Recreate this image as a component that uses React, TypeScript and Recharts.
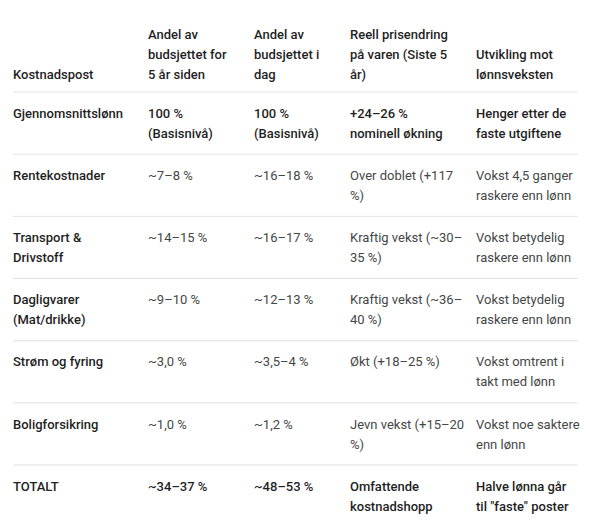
import React from "react";
import { ScatterChart, Scatter, XAxis, YAxis, ReferenceLine } from "recharts";

// ---- table content ----
const headers = [
  "Kostnadspost",
  "Andel av\nbudsjettet for\n5 år siden",
  "Andel av\nbudsjettet i\ndag",
  "Reell prisendring\npå varen (Siste 5\når)",
  "Utvikling mot\nlønnsveksten",
];

const costItems = [
  "Gjennomsnittslønn",
  "Rentekostnader",
  "Transport &\nDrivstoff",
  "Dagligvarer\n(Mat/drikke)",
  "Strøm og fyring",
  "Boligforsikring",
  "TOTALT",
];

const shareFiveYearsAgo = [
  "100 %\n(Basisnivå)",
  "~7–8 %",
  "~14–15 %",
  "~9–10 %",
  "~3,0 %",
  "~1,0 %",
  "~34–37 %",
];

const shareToday = [
  "100 %\n(Basisnivå)",
  "~16–18 %",
  "~16–17 %",
  "~12–13 %",
  "~3,5–4 %",
  "~1,2 %",
  "~48–53 %",
];

const realPriceChange = [
  "+24–26 %\nnominell økning",
  "Over doblet (+117\n%)",
  "Kraftig vekst (~30–\n35 %)",
  "Kraftig vekst (~36–\n40 %)",
  "Økt (+18–25 %)",
  "Jevn vekst (+15–20\n%)",
  "Omfattende\nkostnadshopp",
];

const vsWageGrowth = [
  "Henger etter de\nfaste utgiftene",
  "Vokst 4,5 ganger\nraskere enn lønn",
  "Vokst betydelig\nraskere enn lønn",
  "Vokst betydelig\nraskere enn lønn",
  "Vokst omtrent i\ntakt med lønn",
  "Vokst noe saktere\nenn lønn",
  "Halve lønna går\ntil \"faste\" poster",
];

// ---- layout (not data) ----
const W = 590;
const H = 524;
const COL_X = [13, 148, 254, 350, 476];
const LINE_LEFT = 13;
const LINE_RIGHT = 578;
const HEADER_LAST_LINE = 74;
const HEADER_BOTTOM = 92;
const ROW_H = 62.17;
const FIRST_LINE_OFFSET = 21;
const LINE_GAP = 20;
const EMPHASIS_ROWS = [0, 6];
const FONT = "Roboto, 'Noto Sans', sans-serif";
const FONT_SIZE = 13;
const DARK = "#1f1f1f";
const BODY = "#444746";
const RULE = "#e1e3e1";

type Cell = { x: number; y: number; lines: string[]; weight: number; color: string };

const columns = [costItems, shareFiveYearsAgo, shareToday, realPriceChange, vsWageGrowth];

const cells: Cell[] = [];
headers.forEach((h, c) => {
  const lines = h.split("\n");
  cells.push({
    x: COL_X[c],
    y: HEADER_LAST_LINE - (lines.length - 1) * LINE_GAP,
    lines,
    weight: 500,
    color: DARK,
  });
});
columns.forEach((col, c) => {
  col.forEach((txt, r) => {
    const strong = c === 0 || EMPHASIS_ROWS.includes(r);
    cells.push({
      x: COL_X[c],
      y: HEADER_BOTTOM + r * ROW_H + FIRST_LINE_OFFSET,
      lines: txt.split("\n"),
      weight: strong ? 500 : 400,
      color: strong ? DARK : BODY,
    });
  });
});

const dividerYs = costItems.map((_, r) => HEADER_BOTTOM + r * ROW_H);

const CellText = (props: any) => {
  const { cx, cy, payload } = props;
  if (cx == null || cy == null) return null;
  return (
    <text
      x={cx}
      y={cy}
      fontFamily={FONT}
      fontSize={FONT_SIZE}
      fontWeight={payload.weight}
      fill={payload.color}
    >
      {payload.lines.map((ln: string, i: number) => (
        <tspan key={i} x={cx} y={cy + i * LINE_GAP} dy="0.36em">
          {ln}
        </tspan>
      ))}
    </text>
  );
};

export default function App() {
  return (
    <div style={{ position: "absolute", left: 0, top: 0, width: W, height: H, background: "#fff" }}>
      <ScatterChart width={W} height={H} margin={{ top: 0, right: 0, bottom: 0, left: 0 }}>
        <XAxis type="number" dataKey="x" domain={[0, W]} hide allowDataOverflow />
        <YAxis type="number" dataKey="y" domain={[0, H]} reversed hide allowDataOverflow />
        {dividerYs.map((y, i) => (
          <ReferenceLine
            key={i}
            segment={[
              { x: LINE_LEFT, y },
              { x: LINE_RIGHT, y },
            ]}
            stroke={RULE}
            strokeWidth={1}
            ifOverflow="visible"
          />
        ))}
        <Scatter data={cells} shape={CellText} isAnimationActive={false} />
      </ScatterChart>
    </div>
  );
}
